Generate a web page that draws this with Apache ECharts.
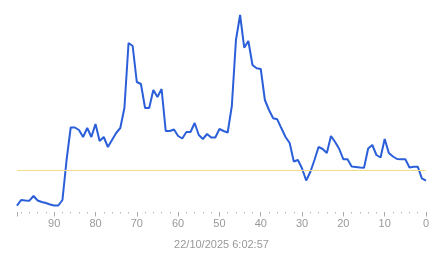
<!DOCTYPE html>
<html>
<head>
<meta charset="utf-8">
<script src="https://cdn.jsdelivr.net/npm/echarts@6/dist/echarts.min.js"></script>
<style>
html,body{margin:0;padding:0;background:#fff;}
#chart{width:443px;height:258px;}
</style>
</head>
<body>
<div id="chart"></div>
<script>
// x positions (age, counting down to 0 = now)
var ages = [99,98,97,96,95,94,93,92,91,90,89,88,87,86,85,84,83,82,81,80,
            79,78,77,76,75,74,73,72,71,70,69,68,67,66,65,64,63,62,61,60,
            59,58,57,56,55,54,53,52,51,50,49,48,47,46,45,44,43,42,41,40,
            39,38,37,36,35,34,33,32,31,30,29,28,27,26,25,24,23,22,21,20,
            19,18,17,16,15,14,13,12,11,10,9,8,7,6,5,4,3,2,1,0];
var values = [6.3,12,11.5,11.3,16,11.5,10,9,7.5,6.5,6.5,12,52,84.5,84.5,82,75,84,75,88,
              71,75,65,72,79,84,104,169,166,130,128,104,104,122,115,123,81,81,82.5,76,
              73.5,80,80,89,77,73,78,74.5,74.5,83,81,79.5,106,172,197,164.3,171,147,143.7,143,
              112,102,93.7,92.7,83.7,75,69,50.5,52,43.5,31.5,40,52,65,63,59,76,70,63,52.7,
              52.7,45.5,45,44.5,44.3,63.5,67,57,54.5,73,59,55.5,53,52.7,52.7,44.5,45.3,45.3,33.7,31.3];
var threshold = 41.7;
var xTicks = [0,10,20,30,40,50,60,70,80,90];
var timestamp = '22/10/2025 6:02:57';

var points = ages.map(function(a, i){ return [a, values[i]]; });
var font = 'Arial, "Liberation Sans", sans-serif';

var chart = echarts.init(document.getElementById('chart'), null, {renderer:'canvas'});
chart.setOption({
  animation: false,
  backgroundColor: '#ffffff',
  title: {
    text: timestamp,
    left: 'center',
    top: 234,
    textStyle: {fontSize: 11, fontWeight: 'normal', color: '#999999', fontFamily: font}
  },
  grid: {left: 17, right: 17, top: 10, bottom: 46},
  xAxis: {
    type: 'value',
    inverse: true,
    min: 0,
    max: 99,
    interval: 10,
    axisLine: {show: false},
    axisTick: {show: true, length: 4.5, lineStyle: {color: '#aaaaaa', width: 1}},
    minorTick: {show: true, splitNumber: 5, length: 1.5, lineStyle: {color: '#bbbbbb', width: 1}},
    splitLine: {show: false},
    axisLabel: {
      margin: 6, fontSize: 11, color: '#999999', fontFamily: font,
      showMaxLabel: false,
      formatter: function(v){ return xTicks.indexOf(v) >= 0 ? String(v) : ''; }
    }
  },
  yAxis: {
    type: 'value',
    min: 0,
    max: 202,
    show: false,
    splitLine: {show: false}
  },
  series: [{
    type: 'line',
    data: points,
    showSymbol: false,
    symbol: 'none',
    lineStyle: {color: '#2b5fd9', width: 2},
    markLine: {
      silent: true,
      symbol: ['none','none'],
      label: {show: false},
      lineStyle: {color: '#f3dd86', width: 1.2, type: 'solid'},
      data: [{yAxis: threshold}]
    }
  }]
});
</script>
</body>
</html>
